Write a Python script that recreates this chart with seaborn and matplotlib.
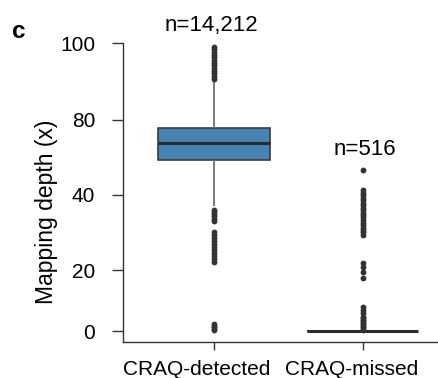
import numpy as np
import pandas as pd
import seaborn as sns
import matplotlib.pyplot as plt
from matplotlib.transforms import ScaledTranslation

# -----------------------------------------------------------------------------
# Data
# -----------------------------------------------------------------------------

groups = ["CRAQ-detected", "CRAQ-missed"]
counts = ["n=14,212", "n=516"]

# five-number summaries: low whisker, Q1, median, Q3, high whisker
detected_box = [37.0, 58.7, 67.6, 75.6, 90.5]
missed_box = [0.0, 0.0, 0.0, 0.0, 0.0]

# outliers (dense runs drawn as many overlapping points)
detected_out = [
    90.8, 91.5, 92.2, 92.9, 93.6, 94.3, 95.0, 95.7, 96.4, 97.1, 97.8, 98.5, 99.2,
    33.1, 33.7, 34.3, 34.9, 35.5, 36.1,
    22.2, 23.0, 23.8, 24.6, 25.4, 26.2, 27.0, 27.8, 28.6, 29.4, 30.2,
    0.2, 0.7, 1.2, 1.7, 2.2,
]
missed_out = [
    53.3,
    42.7, 41.2, 40.0, 39.3, 38.7, 37.9, 37.3, 36.6, 36.0, 35.3, 34.7,
    34.0, 33.3, 32.6, 32.0, 31.3, 30.6, 30.0, 29.3,
    21.8, 20.7, 19.4, 17.3,
    8.0, 6.9, 5.8, 4.7, 4.2, 3.7, 3.2, 2.7, 2.2, 1.7, 1.2, 0.7, 0.3,
]

# the y axis of the original is not linear (ticks evenly spaced)
tick_vals = [0, 20, 40, 80, 100]

box_df = pd.DataFrame({
    "group": [groups[0]] * len(detected_box) + [groups[1]] * len(missed_box),
    "depth": detected_box + missed_box,
})
out_df = pd.DataFrame({
    "group": [groups[0]] * len(detected_out) + [groups[1]] * len(missed_out),
    "depth": detected_out + missed_out,
})

# piecewise-linear axis: value -> screen position
knot_val = np.array([-100, 0, 20, 40, 80, 100, 200], dtype=float)
knot_pos = np.array([-294.3, 10.7, 71.7, 146.7, 221.7, 298.2, 680.7])


def forward(v):
    return np.interp(v, knot_val, knot_pos)


def inverse(p):
    return np.interp(p, knot_pos, knot_val)


# -----------------------------------------------------------------------------
# Plot
# -----------------------------------------------------------------------------

sns.set_style("ticks")
plt.rcParams["font.family"] = ["Liberation Sans", "DejaVu Sans"]
plt.rcParams["text.color"] = "black"
plt.rcParams["axes.labelcolor"] = "black"

fig = plt.figure(figsize=(4.39, 3.78), dpi=100)
ax = fig.add_axes([0.2802, 0.096, 0.7198, 0.789])

sns.boxplot(
    data=box_df, x="group", y="depth", order=groups,
    whis=(0, 100), showfliers=False, width=0.75,
    color="steelblue", saturation=1,
    linecolor="#3a3a3a", linewidth=1.2,
    whiskerprops=dict(color="#707070", linewidth=1.3),
    capprops=dict(linewidth=0),
    medianprops=dict(color="#2b2b2b", linewidth=2.2),
    ax=ax,
)
sns.stripplot(
    data=out_df, x="group", y="depth", order=groups,
    jitter=False, color="#333333", size=4.2, linewidth=0, ax=ax,
)

ax.set_yscale("function", functions=(forward, inverse))
ax.set_ylim(inverse(0), 100)
ax.set_yticks(tick_vals)
ax.set_yticklabels([str(v) for v in tick_vals])
ax.set_xlim(-0.613, 1.515)

ax.set_xlabel("")
ax.set_ylabel("Mapping depth (x)", fontsize=16.5)
ax.yaxis.label.set_verticalalignment("center")
ax.yaxis.set_label_coords(-0.2437, 0.435)

ax.tick_params(axis="y", length=8, width=1, pad=12, labelsize=15,
               color="#333333", labelcolor="black")
ax.tick_params(axis="x", length=6, width=1, pad=7, labelsize=15,
               color="#333333", labelcolor="black")

for lbl, dx in zip(ax.get_xticklabels(), [-17, -10.5]):
    lbl.set_transform(lbl.get_transform() + ScaledTranslation(dx / 100, 0, fig.dpi_scale_trans))

sns.despine(ax=ax)
for side in ["left", "bottom"]:
    ax.spines[side].set_color("#333333")
    ax.spines[side].set_linewidth(1)

# sample sizes
ax.text(-0.017, 1.060, counts[0], transform=ax.get_xaxis_transform(),
        ha="center", va="center", fontsize=16)
ax.text(1.017, 0.646, counts[1], transform=ax.get_xaxis_transform(),
        ha="center", va="center", fontsize=16)

fig.text(18.5 / 439, 1 - 31.5 / 378, "c", fontsize=17.5, fontweight="bold",
         ha="center", va="center")

fig.savefig("out.png", dpi=100)
